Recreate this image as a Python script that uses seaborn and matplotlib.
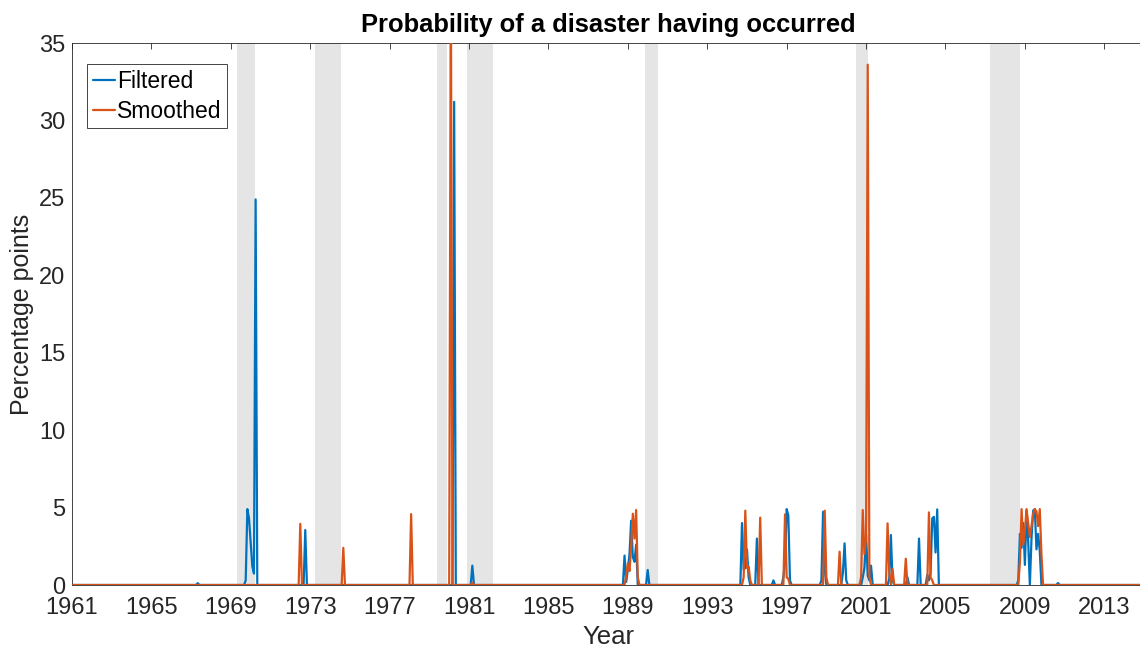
import numpy as np
import pandas as pd
import matplotlib
matplotlib.use("Agg")
import matplotlib.pyplot as plt
import seaborn as sns

START_YEAR = 1961
END_YEAR = 2015

# Shaded episodes, start and end in fractional years
episode_starts = [1969.31, 1973.24, 1979.39, 1980.88, 1989.87, 2000.50, 2007.25]
episode_ends = [1970.22, 1974.54, 1979.89, 1982.21, 1990.50, 2001.10, 2008.76]

# Monthly probabilities (percentage points); months not listed are zero
filtered_dates = [
    1967.333, 1969.75, 1969.833, 1969.917, 1970.0, 1970.083, 1970.167, 1970.25,
    1972.75, 1980.25, 1981.167,
    1988.833, 1988.917, 1989.0, 1989.083, 1989.167, 1989.25, 1989.333, 1989.417,
    1990.0,
    1994.75, 1994.833, 1994.917, 1995.0, 1995.083, 1995.5, 1996.333,
    1996.833, 1996.917, 1997.0, 1997.083, 1997.167,
    1998.75, 1998.833, 1998.917, 1999.833, 1999.917, 2000.0,
    2000.833, 2000.917, 2001.0, 2001.083, 2001.167, 2001.25,
    2002.167, 2002.25, 2002.333, 2003.083, 2003.667,
    2004.083, 2004.167, 2004.25, 2004.333, 2004.417, 2004.5, 2004.583,
    2008.667, 2008.75, 2008.833, 2008.917, 2009.0, 2009.083, 2009.167,
    2009.25, 2009.333, 2009.417, 2009.5, 2009.583, 2009.667, 2009.75,
    2010.667,
]
filtered_values = [
    0.12, 0.3, 4.9, 4.3, 2.8, 1.2, 0.74, 24.9,
    3.55, 31.2, 1.25,
    1.9, 0.2, 1.0, 2.0, 4.15, 1.8, 1.5, 2.6,
    0.97,
    4.0, 1.0, 1.1, 2.3, 0.5, 3.0, 0.3,
    0.5, 1.5, 4.9, 4.5, 0.3,
    0.3, 4.73, 1.0, 0.8, 2.69, 0.3,
    0.5, 1.1, 3.2, 0.6, 0.3, 1.25,
    0.4, 3.23, 0.3, 0.5, 3.0,
    0.65, 0.3, 0.8, 4.3, 4.4, 2.1, 4.88,
    0.3, 3.3, 2.4, 4.0, 1.3, 4.8, 2.8,
    0.0, 3.0, 4.8, 4.9, 2.3, 3.3, 2.2,
    0.13,
]

smoothed_dates = [
    1972.5, 1974.667, 1978.083, 1980.083, 1981.167,
    1988.917, 1989.0, 1989.083, 1989.167, 1989.25, 1989.333, 1989.417, 1989.5,
    1994.833, 1994.917, 1995.0, 1995.083, 1995.167, 1995.667,
    1996.917, 1997.0, 1997.083, 1998.917, 1999.0, 1999.667,
    2000.75, 2000.833, 2000.917, 2001.0, 2001.083, 2001.167,
    2002.083, 2002.167, 2002.333, 2003.0,
    2004.167, 2004.25, 2004.333,
    2008.75, 2008.833, 2008.917, 2009.0, 2009.083, 2009.167, 2009.25,
    2009.333, 2009.417, 2009.5, 2009.583, 2009.667, 2009.75, 2009.833,
]
smoothed_values = [
    3.95, 2.4, 4.58, 40.0, 0.15,
    0.6, 1.4, 0.9, 2.5, 4.6, 3.0, 4.84, 0.5,
    0.5, 4.8, 1.1, 1.2, 0.3, 4.35,
    4.56, 0.5, 0.4, 4.8, 0.5, 2.15,
    0.5, 4.84, 2.0, 3.0, 33.6, 0.5,
    3.98, 0.8, 1.03, 1.7,
    4.69, 0.5, 0.3,
    1.5, 4.9, 2.6, 3.5, 4.9, 4.0, 3.1,
    3.8, 4.6, 4.9, 4.75, 3.8, 4.9, 2.0,
]

x_ticks = list(range(1961, 2014, 4))
y_ticks = list(range(0, 36, 5))

BLUE = "#0072BD"
ORANGE = "#D95319"
AXIS_GREY = "#262626"


def monthly_series(dates, values):
    n = (END_YEAR - START_YEAR) * 12 + 1
    years = START_YEAR + np.arange(n) / 12.0
    vals = np.zeros(n)
    idx = np.rint((np.asarray(dates) - START_YEAR) * 12).astype(int)
    vals[idx] = values
    return years, vals


yrs, filt = monthly_series(filtered_dates, filtered_values)
_, smth = monthly_series(smoothed_dates, smoothed_values)
df = pd.concat([
    pd.DataFrame({"Year": yrs, "value": filt, "series": "Filtered"}),
    pd.DataFrame({"Year": yrs, "value": smth, "series": "Smoothed"}),
], ignore_index=True)

sns.set_theme(style="white")
plt.rcParams["font.family"] = ["Liberation Sans", "DejaVu Sans"]

fig = plt.figure(figsize=(11.40, 6.47), dpi=100)
L, R, T, B = 72, 1144, 43, 585
W, H = 1140, 647
ax = fig.add_axes([L / W, 1 - B / H, (R - L) / W, (B - T) / H])

for s, e in zip(episode_starts, episode_ends):
    ax.axvspan(s, e, color="#e5e5e5", lw=0, zorder=0)

sns.lineplot(data=df, x="Year", y="value", hue="series",
             palette={"Filtered": BLUE, "Smoothed": ORANGE},
             hue_order=["Filtered", "Smoothed"],
             linewidth=1.6, ax=ax, legend=False, zorder=3)

ax.set_xlim(START_YEAR, END_YEAR)
ax.set_ylim(0, 35)
ax.set_xticks(x_ticks)
ax.set_yticks(y_ticks)
ax.tick_params(axis="both", which="major", direction="in", length=4.5,
               width=0.6, color=AXIS_GREY, labelcolor=AXIS_GREY,
               labelsize=17, top=True, right=False, pad=5)
ax.tick_params(axis="x", pad=9)
for name, sp in ax.spines.items():
    sp.set_color(AXIS_GREY)
    sp.set_linewidth(0.6)
    sp.set_visible(name != "right")

ax.set_xlabel("Year", fontsize=18.5, color=AXIS_GREY, labelpad=4)
ax.set_ylabel("Percentage points", fontsize=18, color=AXIS_GREY)
ax.yaxis.set_label_coords(-(L - 34) / (R - L), 0.5)
ax.set_title("Probability of a disaster having occurred", fontsize=18.4,
             fontweight="bold", color="black", pad=8)

handles = [plt.Line2D([], [], color=BLUE, lw=1.6),
           plt.Line2D([], [], color=ORANGE, lw=1.6)]
leg = ax.legend(handles, ["Filtered", "Smoothed"], loc="upper left",
                bbox_to_anchor=((87 - L) / (R - L), (B - 64) / (B - T)),
                borderaxespad=0, fontsize=16.5, frameon=True, fancybox=False,
                framealpha=1, edgecolor=AXIS_GREY, handlelength=0.95,
                handletextpad=0.12, borderpad=0.25, labelspacing=0.3)
leg.get_frame().set_linewidth(0.6)
for t in leg.get_texts():
    t.set_color("black")

fig.savefig("out.png", dpi=100)
